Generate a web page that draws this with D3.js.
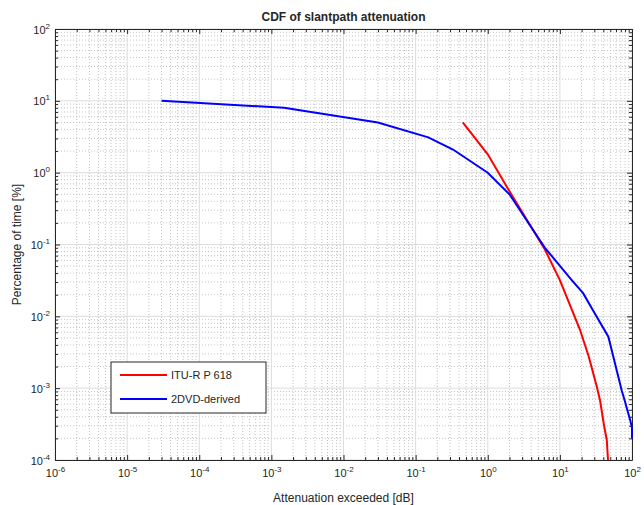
<!DOCTYPE html>
<html>
<head>
<meta charset="utf-8">
<script src="https://cdn.jsdelivr.net/npm/d3@7"></script>
<style>
  body { margin: 0; background: #fff; }
  text { font-family: "Liberation Sans", Arial, sans-serif; fill: #262626; }
</style>
</head>
<body>
<div id="chart"></div>
<script>
// ITU-R P 618 prediction: attenuation [dB] vs percentage of time [%]
const ituAtten = [0.45, 1.0, 2.0, 3.5, 6.2, 10, 14.6, 19, 25, 32.6, 36, 41, 44.7, 46.5];
const ituPct   = [5, 1.8, 0.55, 0.22, 0.085, 0.032, 0.0125, 0.0065, 0.0028, 0.00104, 0.00068, 0.0003, 0.00019, 0.0001];

// 2DVD-derived distribution
const dvdAtten = [3e-5, 1.5e-3, 0.03, 0.15, 0.33, 1.0, 2.0, 6.2, 14.6, 21, 29, 47, 72, 79, 95, 100, 100];
const dvdPct   = [10, 8, 5, 3.1, 2.1, 1.0, 0.5, 0.09, 0.032, 0.021, 0.012, 0.0052, 0.00093, 0.00068, 0.00035, 0.00028, 0.0002];

const xDecades = [-6, -5, -4, -3, -2, -1, 0, 1, 2];
const yDecades = [-4, -3, -2, -1, 0, 1, 2];

const seriesNames = ["ITU-R P 618", "2DVD-derived"];
const seriesColors = ["#ff0000", "#0000ff"];

const W = 644, H = 505;
const margin = { top: 29, right: 12, bottom: 45, left: 55 };
const iw = W - margin.left - margin.right;
const ih = H - margin.top - margin.bottom;

const svg = d3.select("#chart").append("svg")
  .attr("width", W)
  .attr("height", H);

const g = svg.append("g").attr("transform", `translate(${margin.left},${margin.top})`);

const x = d3.scaleLog().domain([1e-6, 1e2]).range([0, iw]);
const y = d3.scaleLog().domain([1e-4, 1e2]).range([ih, 0]);

// major and minor tick values
const xMajor = xDecades.map(e => Math.pow(10, e));
const yMajor = yDecades.map(e => Math.pow(10, e));
function minors(decades) {
  let out = [];
  decades.slice(0, -1).forEach(e => {
    for (let k = 2; k <= 9; k++) out.push(k * Math.pow(10, e));
  });
  return out;
}
const xMinor = minors(xDecades);
const yMinor = minors(yDecades);

// minor grid (dotted)
g.append("g").selectAll("line").data(xMinor).join("line")
  .attr("x1", d => x(d)).attr("x2", d => x(d))
  .attr("y1", 0).attr("y2", ih)
  .attr("stroke", "#c4c4c4").attr("stroke-width", 1)
  .attr("stroke-dasharray", "1,2");
g.append("g").selectAll("line").data(yMinor).join("line")
  .attr("y1", d => y(d)).attr("y2", d => y(d))
  .attr("x1", 0).attr("x2", iw)
  .attr("stroke", "#c4c4c4").attr("stroke-width", 1)
  .attr("stroke-dasharray", "1,2");

// major grid
g.append("g").selectAll("line").data(xMajor).join("line")
  .attr("x1", d => x(d)).attr("x2", d => x(d))
  .attr("y1", 0).attr("y2", ih)
  .attr("stroke", "#dcdcdc").attr("stroke-width", 1);
g.append("g").selectAll("line").data(yMajor).join("line")
  .attr("y1", d => y(d)).attr("y2", d => y(d))
  .attr("x1", 0).attr("x2", iw)
  .attr("stroke", "#dcdcdc").attr("stroke-width", 1);

// axes with inward ticks on all four sides
function styleAxis(sel) {
  sel.selectAll("path, line").attr("stroke", "#262626").attr("stroke-width", 1);
}
function addAxis(axisFn, scale, transform) {
  const a = g.append("g").attr("transform", transform);
  a.call(axisFn(scale).tickValues(xMajor.length && scale === x ? xMajor : yMajor)
    .tickSize(-5).tickSizeOuter(0).tickFormat(""));
  const m = g.append("g").attr("transform", transform);
  m.call(axisFn(scale).tickValues(scale === x ? xMinor : yMinor)
    .tickSize(-3).tickSizeOuter(0).tickFormat(""));
  m.select(".domain").remove();
  styleAxis(a); styleAxis(m);
  return a;
}
const xAxisB = addAxis(d3.axisBottom, x, `translate(0,${ih})`);
addAxis(d3.axisTop, x, `translate(0,0)`);
const yAxisL = addAxis(d3.axisLeft, y, `translate(0,0)`);
addAxis(d3.axisRight, y, `translate(${iw},0)`);

// power-of-ten tick labels
function powLabel(sel, e) {
  sel.append("tspan").text("10");
  sel.append("tspan").attr("dy", -5).attr("font-size", 8).text(e);
}
xAxisB.selectAll(".tick").each(function(d) {
  const t = d3.select(this).append("text")
    .attr("y", 17).attr("text-anchor", "middle")
    .attr("font-size", 11);
  powLabel(t, Math.round(Math.log10(d)));
});
yAxisL.selectAll(".tick").each(function(d) {
  const t = d3.select(this).append("text")
    .attr("x", -5).attr("dy", 4).attr("text-anchor", "end")
    .attr("font-size", 11);
  powLabel(t, Math.round(Math.log10(d)));
});

// data lines
const line = d3.line().x(d => x(d[0])).y(d => y(d[1]));
const ituData = d3.zip(ituAtten, ituPct);
const dvdData = d3.zip(dvdAtten, dvdPct);

g.append("path").datum(ituData)
  .attr("d", line).attr("fill", "none")
  .attr("stroke", seriesColors[0]).attr("stroke-width", 2);
g.append("path").datum(dvdData)
  .attr("d", line).attr("fill", "none")
  .attr("stroke", seriesColors[1]).attr("stroke-width", 2);

// title and axis labels
svg.append("text")
  .attr("x", margin.left + iw / 2).attr("y", 21)
  .attr("text-anchor", "middle")
  .attr("font-size", 12).attr("font-weight", "bold")
  .text("CDF of slantpath attenuation");
svg.append("text")
  .attr("x", margin.left + iw / 2).attr("y", 502)
  .attr("text-anchor", "middle")
  .attr("font-size", 12)
  .text("Attenuation exceeded [dB]");
svg.append("text")
  .attr("transform", `translate(21,${margin.top + ih / 2})rotate(-90)`)
  .attr("text-anchor", "middle")
  .attr("font-size", 12)
  .text("Percentage of time [%]");

// legend
const legend = svg.append("g").attr("transform", "translate(111,362)");
legend.append("rect")
  .attr("width", 155).attr("height", 51)
  .attr("fill", "#fff").attr("stroke", "#262626").attr("stroke-width", 1);
seriesNames.forEach((name, i) => {
  const row = legend.append("g").attr("transform", `translate(0,${13 + i * 24})`);
  row.append("line")
    .attr("x1", 9).attr("x2", 56)
    .attr("stroke", seriesColors[i]).attr("stroke-width", 2);
  row.append("text")
    .attr("x", 60).attr("dy", 4)
    .attr("font-size", 11)
    .text(name);
});
</script>
</body>
</html>
